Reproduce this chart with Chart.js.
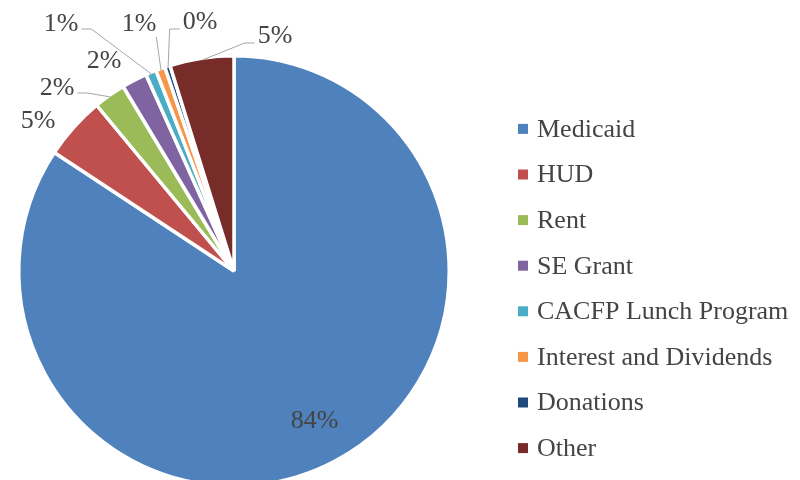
<!DOCTYPE html>
<html>
<head>
<meta charset="utf-8">
<script src="https://cdn.jsdelivr.net/npm/chart.js@4.4.1/dist/chart.umd.min.js"></script>
<style>
  html, body { margin: 0; padding: 0; background: #fff; overflow: hidden; }
  #wrap { width: 800px; height: 480px; overflow: hidden; }
</style>
</head>
<body>
<div id="wrap"><canvas id="pie" width="800" height="540"></canvas></div>
<script>
var categories = ['Medicaid', 'HUD', 'Rent', 'SE Grant', 'CACFP Lunch Program', 'Interest and Dividends', 'Donations', 'Other'];
var shares = [84.2, 4.7, 2.4, 1.9, 0.8, 0.7, 0.4, 4.8];
var shareLabels = ['84%', '5%', '2%', '2%', '1%', '1%', '0%', '5%'];
var colors = ['#4F81BD', '#C0504D', '#9BBB59', '#8064A2', '#4BACC6', '#F79646', '#1F497D', '#772C2A'];

var FONT = '26px "Liberation Serif", "DejaVu Serif", serif';
var TEXT = '#444444';

// where excel put the labels (offset from pie centre), and how the leader line leaves the label
var labelLayout = [
  {inside: 0.79},
  {dx: -196, dy: -150, line: null},
  {dx: -177, dy: -183, line: 'right'},
  {dx: -130, dy: -210, line: null},
  {dx: -173, dy: -247, line: 'right'},
  {dx: -95, dy: -247, line: 'bottom'},
  {dx: -34, dy: -249, line: 'left'},
  {dx: 41, dy: -235, line: 'left'}
];

var pieLabels = {
  id: 'pieLabels',
  afterDatasetsDraw: function(chart) {
    var ctx = chart.ctx;
    var arcs = chart.getDatasetMeta(0).data;
    ctx.save();
    ctx.font = FONT;
    ctx.fillStyle = TEXT;
    ctx.textAlign = 'center';
    ctx.textBaseline = 'middle';
    for (var i = 0; i < arcs.length; i++) {
      var a = arcs[i].getProps(['x', 'y', 'startAngle', 'endAngle', 'outerRadius'], true);
      var mid = (a.startAngle + a.endAngle) / 2;
      var L = labelLayout[i];
      var text = shareLabels[i];
      if (L.inside) {
        ctx.fillText(text, a.x + Math.cos(mid) * a.outerRadius * L.inside, a.y + Math.sin(mid) * a.outerRadius * L.inside);
        continue;
      }
      var lx = a.x + L.dx, ly = a.y + L.dy;
      ctx.fillText(text, lx, ly);
      if (L.line) {
        var hw = ctx.measureText(text).width / 2;
        var ex = a.x + Math.cos(mid) * (a.outerRadius - 2);
        var ey = a.y + Math.sin(mid) * (a.outerRadius - 2);
        ctx.beginPath();
        ctx.strokeStyle = '#A6A6A6';
        ctx.lineWidth = 1;
        if (L.line == 'right') {
          ctx.moveTo(lx + hw + 3, ly + 5);
          ctx.lineTo(lx + hw + 13, ly + 5);
        } else if (L.line == 'left') {
          ctx.moveTo(lx - hw - 3, ly + 7);
          ctx.lineTo(lx - hw - 13, ly + 7);
        } else {
          ctx.moveTo(lx + hw, ly + 13);
        }
        ctx.lineTo(ex, ey);
        ctx.stroke();
      }
    }
    ctx.restore();
  }
};

var sideLegend = {
  id: 'sideLegend',
  afterDraw: function(chart) {
    var ctx = chart.ctx;
    var n = categories.length, gap = 45.6;
    var y0 = 288.5 - (n - 1) / 2 * gap;
    ctx.save();
    ctx.font = FONT;
    ctx.textBaseline = 'middle';
    ctx.textAlign = 'left';
    for (var i = 0; i < n; i++) {
      var y = y0 + i * gap;
      ctx.fillStyle = colors[i];
      ctx.fillRect(518, y - 5, 10, 10);
      ctx.fillStyle = TEXT;
      ctx.fillText(categories[i], 537, y + 1);
    }
    ctx.restore();
  }
};

new Chart(document.getElementById('pie'), {
  type: 'pie',
  data: {
    labels: categories,
    datasets: [{
      data: shares,
      backgroundColor: colors,
      borderColor: '#ffffff',
      borderWidth: 3.5
    }]
  },
  options: {
    responsive: false,
    animation: false,
    devicePixelRatio: 1,
    layout: { padding: { left: 17, right: 349, top: 54, bottom: 52 } },
    plugins: {
      legend: { display: false },
      tooltip: { enabled: false }
    }
  },
  plugins: [pieLabels, sideLegend]
});
</script>
</body>
</html>
